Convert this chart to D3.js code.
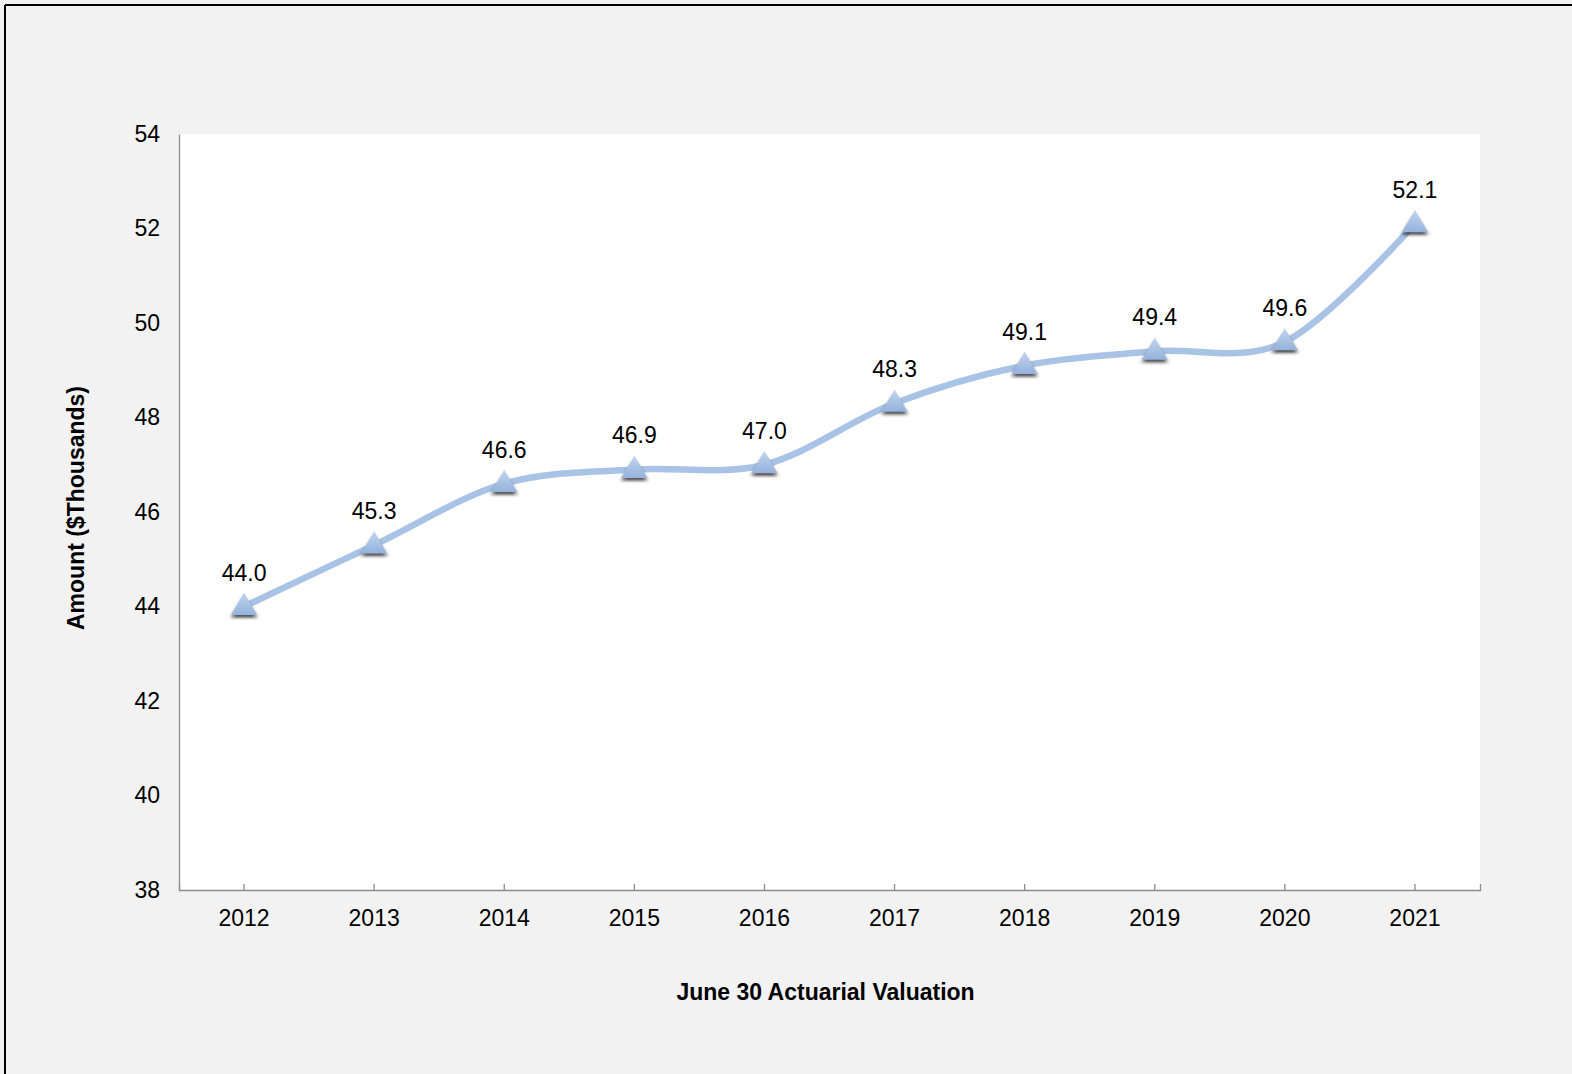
<!DOCTYPE html>
<html>
<head>
<meta charset="utf-8">
<script src="https://cdn.jsdelivr.net/npm/d3@7"></script>
<style>
  html, body { margin: 0; padding: 0; background: #f2f2f2; }
  svg { display: block; }
  text { font-family: "Liberation Sans", Arial, sans-serif; fill: #000; }
</style>
</head>
<body>
<script>
// Average amount by valuation year ($ thousands)
const years = ["2012", "2013", "2014", "2015", "2016", "2017", "2018", "2019", "2020", "2021"];
const amounts = [44.0, 45.3, 46.6, 46.9, 47.0, 48.3, 49.1, 49.4, 49.6, 52.1];
const yTicks = [38, 40, 42, 44, 46, 48, 50, 52, 54];
const xTitle = "June 30 Actuarial Valuation";
const yTitle = "Amount ($Thousands)";

const W = 1572, H = 1074;
const plot = { left: 179, right: 1480, top: 134, bottom: 890 };

const svg = d3.select("body").append("svg").attr("width", W).attr("height", H);

const defs = svg.append("defs");
const grad = defs.append("linearGradient").attr("id", "markerFill")
  .attr("x1", 0).attr("y1", 0).attr("x2", 0).attr("y2", 1);
grad.append("stop").attr("offset", "0%").attr("stop-color", "#c3d5ee");
grad.append("stop").attr("offset", "100%").attr("stop-color", "#94b2dc");
defs.append("filter").attr("id", "shadow").attr("x", "-50%").attr("y", "-50%")
  .attr("width", "200%").attr("height", "200%")
  .append("feGaussianBlur").attr("stdDeviation", 2);

// Page frame
svg.append("rect").attr("width", W).attr("height", H).attr("fill", "#f2f2f2");
svg.append("line").attr("x1", 5).attr("x2", W).attr("y1", 5).attr("y2", 5)
  .attr("stroke", "#000").attr("stroke-width", 2);
svg.append("line").attr("x1", 5).attr("x2", 5).attr("y1", 5).attr("y2", H)
  .attr("stroke", "#000").attr("stroke-width", 2);

// Plot area
svg.append("rect")
  .attr("x", plot.left).attr("y", plot.top)
  .attr("width", plot.right - plot.left).attr("height", plot.bottom - plot.top)
  .attr("fill", "#fff");

const x = d3.scaleBand().domain(years).range([plot.left, plot.right]).padding(0);
const y = d3.scaleLinear().domain([38, 54]).range([plot.bottom, plot.top]);
const cx = d => x(d) + x.bandwidth() / 2;

// Y axis: line and labels only
const yAxis = svg.append("g").attr("transform", `translate(${plot.left},0)`)
  .call(d3.axisLeft(y).tickValues(yTicks).tickSize(0).tickPadding(19).tickFormat(d3.format("d")));
yAxis.select(".domain").attr("stroke", "#8c8c8c").attr("stroke-width", 1.3);
yAxis.selectAll("text").attr("font-size", 23).attr("font-family", "Liberation Sans, Arial, sans-serif");

// X axis: short inward ticks at each category
const xAxis = svg.append("g").attr("transform", `translate(0,${plot.bottom})`)
  .call(d3.axisBottom(x).tickSize(-6).tickPadding(0).tickSizeOuter(-6));
xAxis.select(".domain").attr("stroke", "#8c8c8c").attr("stroke-width", 1.3);
xAxis.selectAll(".tick line").attr("stroke", "#8c8c8c").attr("stroke-width", 1.3);
xAxis.selectAll("text").attr("font-size", 23).attr("dy", null).attr("y", 36)
  .attr("font-family", "Liberation Sans, Arial, sans-serif");

// Smoothed series line
const pts = years.map((yr, i) => ({ yr, v: amounts[i] }));
const line = d3.line().x(d => cx(d.yr)).y(d => y(d.v)).curve(d3.curveCardinal.tension(0));
svg.append("path").datum(pts).attr("d", line)
  .attr("fill", "none").attr("stroke", "#a9c3e6").attr("stroke-width", 6.5)
  .attr("stroke-linecap", "round");

// Triangle markers with soft drop shadow
const tri = d3.symbol().type(d3.symbolTriangle).size(290);
const markers = svg.append("g").selectAll("g").data(pts).join("g")
  .attr("transform", d => `translate(${cx(d.yr)},${y(d.v)})`);
markers.append("path").attr("d", tri)
  .attr("transform", "translate(0,4.5) scale(1.0,0.9)")
  .attr("fill", "#222").attr("opacity", 0.8).attr("filter", "url(#shadow)");
markers.append("path").attr("d", tri)
  .attr("transform", "translate(0,1)")
  .attr("fill", "url(#markerFill)");

// Data labels
svg.append("g").selectAll("text").data(pts).join("text")
  .attr("x", d => cx(d.yr)).attr("y", d => y(d.v) - 26)
  .attr("text-anchor", "middle").attr("font-size", 23)
  .text(d => d3.format(".1f")(d.v));

// Axis titles
svg.append("text").attr("x", (plot.left + plot.right) / 2 - 4).attr("y", 1000)
  .attr("text-anchor", "middle").attr("font-size", 23).attr("font-weight", "bold")
  .text(xTitle);
svg.append("text").attr("transform", `translate(84,${(plot.top + plot.bottom) / 2 - 4}) rotate(-90)`)
  .attr("text-anchor", "middle").attr("font-size", 23).attr("font-weight", "bold")
  .text(yTitle);
</script>
</body>
</html>
